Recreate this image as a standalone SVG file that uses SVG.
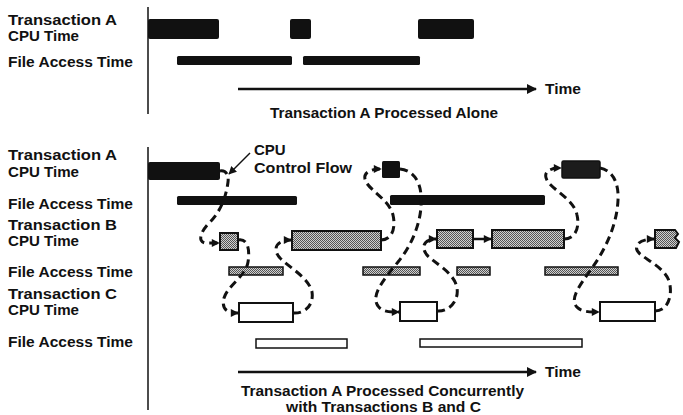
<svg xmlns="http://www.w3.org/2000/svg" width="683" height="415" viewBox="0 0 683 415">
  <style>
    text { font-family: "Liberation Sans", Arial, sans-serif; font-weight: bold; font-size: 14px; fill: #111; }
    .axis { stroke: #111; stroke-width: 1.5; fill: none; }
    .solidA { fill: #111; }
    .darkA { fill: #1c1c1c; stroke: #111; stroke-width: 1.5; }
    .boxB { fill: url(#stipple); stroke: #111; stroke-width: 2; }
    .boxC { fill: #fff; stroke: #111; stroke-width: 2; }
    .fileB { fill: url(#stipple); stroke: #111; stroke-width: 1.5; }
    .fileC { fill: #fff; stroke: #111; stroke-width: 1.5; }
    .flow { fill: none; stroke: #111; stroke-width: 3; stroke-dasharray: 8 5; marker-end: url(#head); }
    .solid { fill: none; stroke: #111; stroke-width: 2.5; marker-end: url(#head); }
    .time { fill: none; stroke: #111; stroke-width: 2.5; marker-end: url(#bighead); }
  </style>
  <defs>
    <pattern id="stipple" width="2" height="2" patternUnits="userSpaceOnUse">
      <rect width="2" height="2" fill="#d0d0d0"/>
      <rect width="1" height="1" fill="#555"/>
      <rect x="1" y="1" width="1" height="1" fill="#555"/>
    </pattern>
    <marker id="head" viewBox="0 0 10 10" refX="9" refY="5" markerWidth="9" markerHeight="8" markerUnits="userSpaceOnUse" orient="auto">
      <path d="M0,0 L10,5 L0,10 Z" fill="#111"/>
    </marker>
    <marker id="bighead" viewBox="0 0 10 10" refX="9" refY="5" markerWidth="15" markerHeight="10" markerUnits="userSpaceOnUse" orient="auto">
      <path d="M0,0 L10,5 L0,10 Z" fill="#111"/>
    </marker>
  </defs>

  <!-- upper chart: transaction A alone -->
  <g id="alone-labels">
    <text x="8" y="25" textLength="109" lengthAdjust="spacingAndGlyphs">Transaction A</text>
    <text x="8" y="41" textLength="71" lengthAdjust="spacingAndGlyphs">CPU Time</text>
    <text x="8" y="67" textLength="125" lengthAdjust="spacingAndGlyphs">File Access Time</text>
  </g>
  <line id="alone-axis" class="axis" x1="148" y1="7" x2="148" y2="114"/>
  <g id="alone-cpu-a">
    <rect class="solidA" x="148" y="19" width="71" height="20" rx="2"/>
    <rect class="solidA" x="290" y="19" width="21" height="20" rx="2"/>
    <rect class="solidA" x="418" y="19" width="56" height="20" rx="2"/>
  </g>
  <g id="alone-file-a">
    <rect class="solidA" x="177" y="56" width="115" height="9" rx="1.5"/>
    <rect class="solidA" x="303" y="56" width="117" height="9" rx="1.5"/>
  </g>
  <g id="alone-time">
    <path class="time" d="M238,89 L536,89"/>
    <text x="545" y="94" textLength="36" lengthAdjust="spacingAndGlyphs">Time</text>
    <text x="270" y="118" textLength="228" lengthAdjust="spacingAndGlyphs">Transaction A Processed Alone</text>
  </g>

  <!-- lower chart: A, B and C interleaved -->
  <g id="concurrent-labels">
    <text x="8" y="160" textLength="109" lengthAdjust="spacingAndGlyphs">Transaction A</text>
    <text x="8" y="177" textLength="71" lengthAdjust="spacingAndGlyphs">CPU Time</text>
    <text x="8" y="209" textLength="125" lengthAdjust="spacingAndGlyphs">File Access Time</text>
    <text x="8" y="230" textLength="109" lengthAdjust="spacingAndGlyphs">Transaction B</text>
    <text x="8" y="246" textLength="71" lengthAdjust="spacingAndGlyphs">CPU Time</text>
    <text x="8" y="277" textLength="125" lengthAdjust="spacingAndGlyphs">File Access Time</text>
    <text x="8" y="299" textLength="109" lengthAdjust="spacingAndGlyphs">Transaction C</text>
    <text x="8" y="315" textLength="71" lengthAdjust="spacingAndGlyphs">CPU Time</text>
    <text x="8" y="347" textLength="125" lengthAdjust="spacingAndGlyphs">File Access Time</text>
  </g>
  <line id="concurrent-axis" class="axis" x1="148" y1="147" x2="148" y2="410"/>

  <g id="cpu-a">
    <rect class="solidA" x="148" y="162" width="72" height="18" rx="2"/>
    <rect class="solidA" x="382" y="161" width="18" height="17" rx="1.5"/>
    <rect class="darkA" x="562" y="161" width="38" height="17" rx="1.5"/>
  </g>
  <g id="file-a">
    <rect class="solidA" x="177" y="196" width="120" height="9" rx="1.5"/>
    <rect class="solidA" x="390" y="195" width="155" height="10" rx="1.5"/>
  </g>
  <g id="cpu-b">
    <rect class="boxB" x="220" y="233" width="18" height="17"/>
    <rect class="boxB" x="292" y="231" width="89" height="19"/>
    <rect class="boxB" x="437" y="230" width="36" height="18"/>
    <rect class="boxB" x="492" y="230" width="72" height="18"/>
    <path class="boxB" d="M655,230 L675,230 L678,234 L675,238 L679,242 L676,248 L655,248 Z"/>
  </g>
  <g id="file-b">
    <rect class="fileB" x="229" y="267" width="54" height="8"/>
    <rect class="fileB" x="363" y="267" width="57" height="8"/>
    <rect class="fileB" x="457" y="267" width="33" height="8"/>
    <rect class="fileB" x="545" y="267" width="73" height="8"/>
  </g>
  <g id="cpu-c">
    <rect class="boxC" x="239" y="303" width="54" height="19"/>
    <rect class="boxC" x="400" y="302" width="37" height="19"/>
    <rect class="boxC" x="600" y="302" width="55" height="19"/>
  </g>
  <g id="file-c">
    <rect class="fileC" x="256" y="339" width="91" height="9"/>
    <rect class="fileC" x="420" y="339" width="162" height="8"/>
  </g>

  <g id="connectors">
    <path class="flow" d="M220,171 C226,170 229,175 228,182 C226,198 220,212 210,222 C201,231 197,241 205,243 L219,243"/>
    <path class="flow" d="M238,240 C248,238 250,250 248,262 C246,276 228,285 224,298 C221,310 228,313 238,313"/>
    <path class="flow" d="M293,313 C305,314 314,305 312,292 C309,278 290,268 280,258 C272,249 276,240 291,240"/>
    <path class="flow" d="M381,240 C392,240 396,228 393,215 C389,200 372,192 366,182 C362,174 368,169 381,169"/>
    <path class="flow" d="M400,169 C412,170 420,180 421,195 C423,220 412,245 398,262 C385,278 370,295 378,306 C382,312 390,312 399,312"/>
    <path class="flow" d="M437,311 C450,312 459,300 457,288 C455,275 440,266 430,258 C420,250 422,239 436,239"/>
    <path class="solid" d="M473,239 L491,239"/>
    <path class="flow" d="M564,239 C575,239 580,228 577,215 C574,200 556,192 548,182 C542,173 548,168 561,168"/>
    <path class="flow" d="M600,168 C612,170 619,182 618,200 C617,225 605,250 592,268 C580,285 568,300 578,308 C583,312 590,312 599,312"/>
    <path class="flow" d="M655,311 C667,311 672,298 670,285 C668,270 650,262 640,254 C632,247 638,239 654,239"/>
  </g>

  <g id="control-flow-note">
    <text x="254" y="155" style="font-size:15px">CPU</text>
    <text x="254" y="173" style="font-size:15px" textLength="98" lengthAdjust="spacingAndGlyphs">Control Flow</text>
    <path class="solid" style="stroke-width:1.5" d="M250,153 L229,174"/>
  </g>

  <g id="concurrent-time">
    <path class="time" d="M238,372 L536,372"/>
    <text x="545" y="377" textLength="36" lengthAdjust="spacingAndGlyphs">Time</text>
    <text x="241" y="396" textLength="283" lengthAdjust="spacingAndGlyphs">Transaction A Processed Concurrently</text>
    <text x="286" y="412" textLength="195" lengthAdjust="spacingAndGlyphs">with Transactions B and C</text>
  </g>
</svg>
